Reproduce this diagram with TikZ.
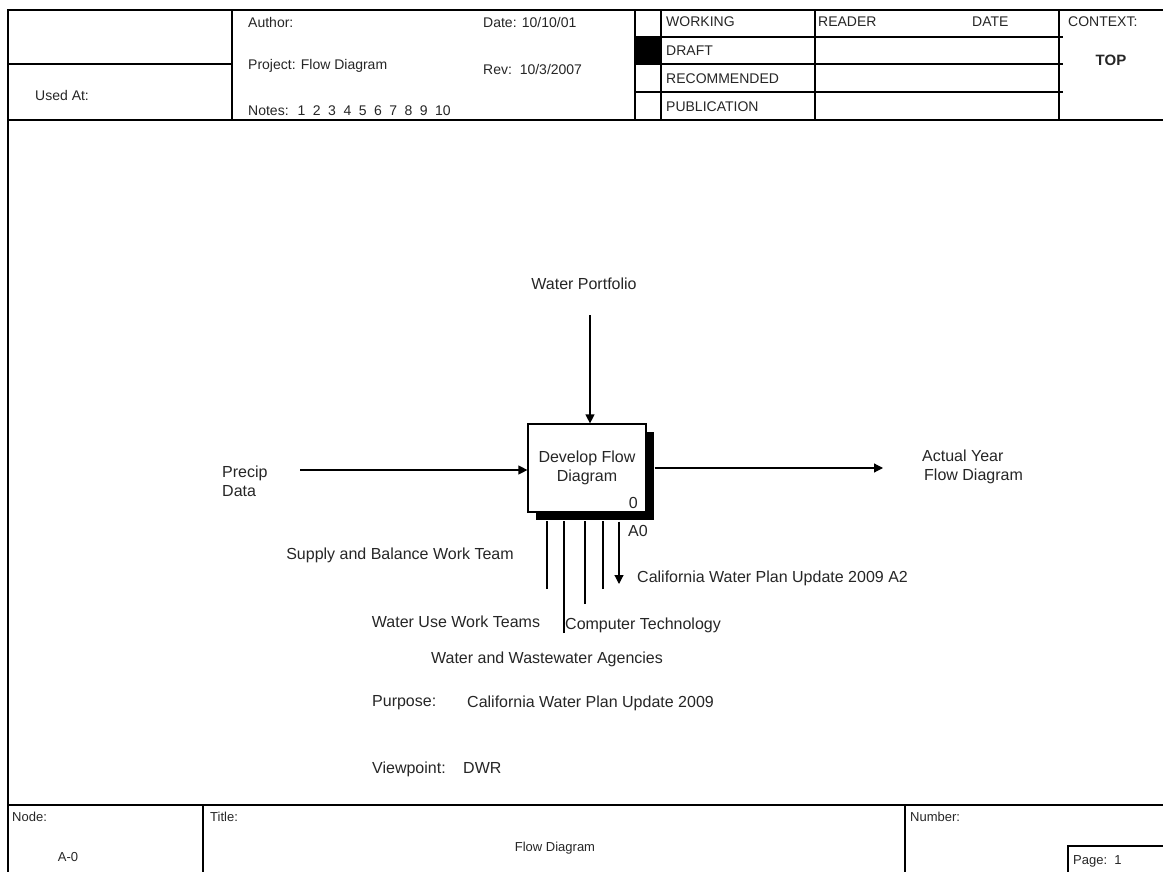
\documentclass[tikz,border=0pt]{standalone}
\usepackage{fontspec}
\setmainfont{Liberation Sans}
\usetikzlibrary{arrows.meta}
\newcommand{\nsp}{\hspace{7.5pt}}
\begin{document}
\begin{tikzpicture}[x=1pt,y=-1pt,
  frame/.style={line width=1.3pt},
  hd/.style={font=\fontsize{14}{16}\selectfont, text=black!85, inner sep=0pt, anchor=west},
  ft/.style={font=\fontsize{13}{15}\selectfont, text=black!85, inner sep=0pt, anchor=west},
  lbl/.style={font=\fontsize{16}{19}\selectfont, text=black!85, inner sep=0pt},
  flow/.style={line width=1.2pt},
  arr/.style={flow, -{Triangle[length=9pt,width=9pt]}},
  procbox/.style={draw, line width=1.2pt, fill=white, minimum width=118pt, minimum height=88pt, inner sep=0pt, font=\fontsize{16}{19}\selectfont, text=black!85, align=center}]
\useasboundingbox (0,0) rectangle (1163,872);
\fill[white] (0,0) rectangle (1163,872);

% ---------- header frame ----------
\draw[frame] (8,874) -- (8,10) -- (1165,10);
\draw[frame] (8,120) -- (1165,120);
\draw[frame] (232,10) -- (232,120);
\draw[frame] (8,64) -- (232,64);
\draw[frame] (635,10) -- (635,120);
\draw[frame] (661,10) -- (661,120);
\fill (635,37) rectangle (661,64);
\draw[frame] (815,10) -- (815,120);
\draw[frame] (1059,10) -- (1059,120);
\draw[frame] (635,37) -- (1063,37);
\draw[frame] (635,64) -- (1063,64);
\draw[frame] (635,92) -- (1063,92);

\node[hd] (usedat) at (35,95) {Used At:};
\node[hd] (author) at (248,22) {Author:};
\node[hd] (date) at (483,22) {Date: 10/10/01};
\node[hd] (project) at (248,66) {Project: Flow Diagram};
\node[hd] (rev) at (483,69) {Rev:\ \ 10/3/2007};
\node[hd] (notes) at (248,111) {Notes:\hspace{9pt}1\nsp2\nsp3\nsp4\nsp5\nsp6\nsp7\nsp8\nsp9\nsp10};
\node[hd] (working) at (666,22) {WORKING};
\node[hd] (draft) at (666,51) {DRAFT};
\node[hd] (recommended) at (666,79) {RECOMMENDED};
\node[hd] (publication) at (666,107) {PUBLICATION};
\node[hd] (reader) at (818,22) {READER};
\node[hd] (datecol) at (972,22) {DATE};
\node[hd] (context) at (1068,22) {CONTEXT:};
\node[hd, anchor=center, font=\fontsize{15}{17}\selectfont\bfseries] (top) at (1111,60) {TOP};

% ---------- footer ----------
\draw[frame] (8,805) -- (1165,805);
\draw[frame] (203,805) -- (203,874);
\draw[frame] (905,805) -- (905,874);
\draw[frame] (1068,874) -- (1068,846) -- (1165,846);
\node[ft] (nodelbl) at (12,817) {Node:};
\node[ft, anchor=center] (nodeval) at (68,857) {A-0};
\node[ft] (titlelbl) at (210,817) {Title:};
\node[ft, anchor=center] (titleval) at (555,848) {Flow Diagram};
\node[ft] (numberlbl) at (910,817) {Number:};
\node[ft] (page) at (1073,861) {Page:\ \ 1};

% ---------- activity box ----------
\fill (536,432) rectangle (654,520);
\node[procbox] (box) at (587,468) {Develop Flow\\Diagram};
\node[lbl, anchor=south east] (num) at (638,509) {0};
\node[lbl] (a0) at (638,531) {A0};

% ---------- labels ----------
\node[lbl] (wp) at (584,284) {Water Portfolio};
\node[lbl, anchor=west, align=left] (precip) at (222,481) {Precip\\Data};
\node[lbl, anchor=west, align=left] (actual) at (922,467) {Actual Year\\\hspace*{2pt}Flow Diagram};
\node[lbl] (supply) at (400,555) {Supply and Balance Work Team};
\node[lbl, anchor=west] (cwp) at (637,578) {California Water Plan Update 2009 A2};
\node[lbl] (wuse) at (456,622) {Water Use Work Teams};
\node[lbl, anchor=west] (comp) at (565,625) {Computer Technology};
\node[lbl] (agencies) at (547,659) {Water and Wastewater Agencies};
\node[lbl, anchor=west] (purpose) at (372,703) {Purpose:};
\node[lbl, anchor=west] (purposeval) at (467,703) {California Water Plan Update 2009};
\node[lbl, anchor=west] (viewpoint) at (372,769) {Viewpoint:};
\node[lbl, anchor=west] (dwr) at (463,768) {DWR};

% ---------- connectors ----------
\coordinate (wpend) at (590,315);
\coordinate (precipend) at (300,470);
\coordinate (outend) at (883,468);
\coordinate (m1) at (547,589);
\coordinate (m2) at (564,633);
\coordinate (m3) at (585,604);
\coordinate (m4) at (603,589);
\coordinate (o2) at (619,584);

\draw[arr] (wpend) -- (wpend |- box.north);
\draw[arr] (precipend) -- (precipend -| box.west);
\draw[arr] ([xshift=8pt]box.east |- outend) -- (outend);
\draw[flow] (m1) -- ([yshift=-8pt]m1 |- box.south);
\draw[flow] (m2) -- ([yshift=-8pt]m2 |- box.south);
\draw[flow] (m3) -- ([yshift=-8pt]m3 |- box.south);
\draw[flow] (m4) -- ([yshift=-8pt]m4 |- box.south);
\draw[arr] ([yshift=-9pt]o2 |- box.south) -- (o2);
\end{tikzpicture}
\end{document}
